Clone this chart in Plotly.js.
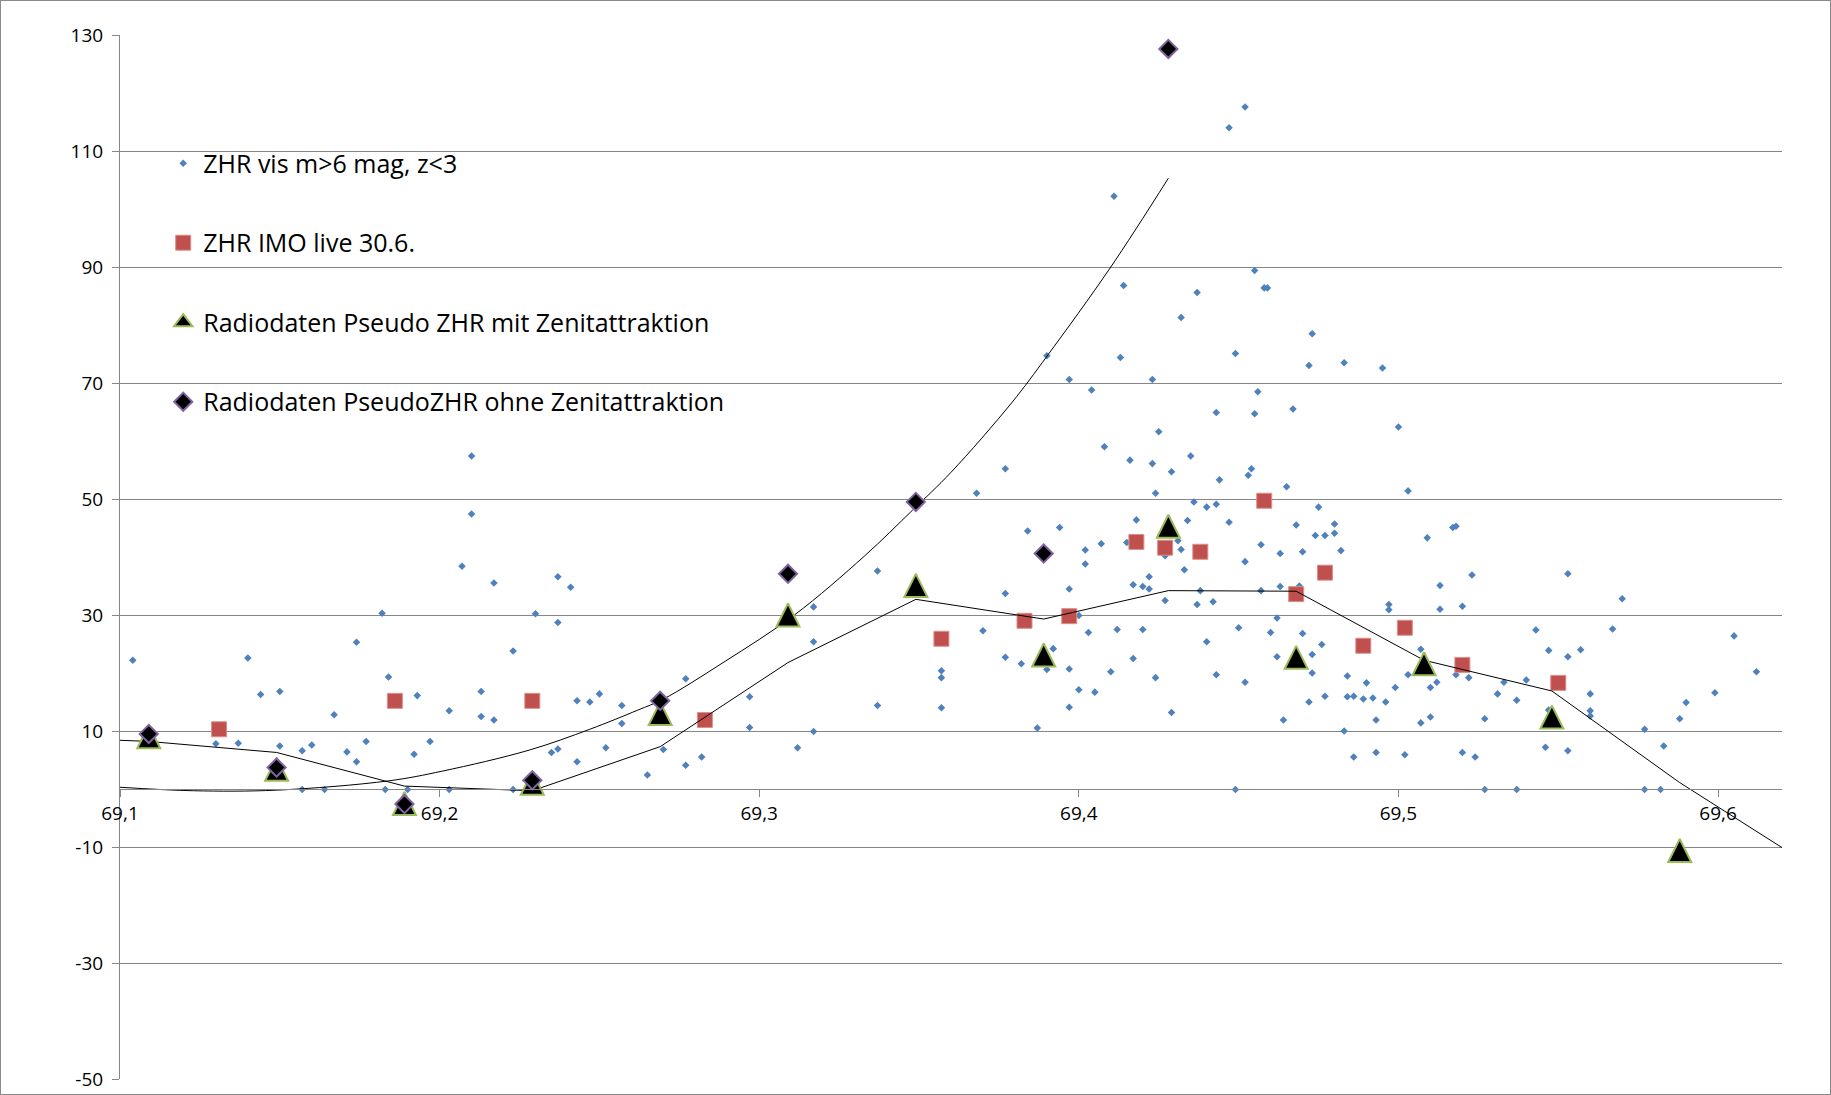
<!DOCTYPE html>
<html>
<head>
<meta charset="utf-8">
<script src="https://cdn.plot.ly/plotly-3.0.1.min.js"></script>
<style>
  html, body { margin: 0; padding: 0; background: #ffffff; }
  #frame { position: absolute; left: 0; top: 0; width: 1829px; height: 1093px; border: 1px solid #8a8a8a; }
  #chart { width: 1829px; height: 1093px; }
</style>
</head>
<body>
<div id="frame"><div id="chart"></div></div>
<script>
// Visual ZHR estimates (solar longitude, ZHR)
const visX = [
  69.104, 69.140, 69.130, 69.137, 69.144, 69.150, 69.150, 69.157, 69.160, 69.157,
  69.164, 69.167, 69.171, 69.174, 69.174, 69.177, 69.182, 69.183, 69.184, 69.190,
  69.192, 69.193, 69.197, 69.203, 69.203, 69.207, 69.210, 69.210, 69.213, 69.213,
  69.217, 69.217, 69.223, 69.223, 69.230, 69.235, 69.237, 69.237, 69.237, 69.241,
  69.243, 69.243, 69.247, 69.250, 69.252, 69.257, 69.257, 69.265, 69.270, 69.277,
  69.277, 69.282, 69.297, 69.297, 69.312, 69.317, 69.317, 69.317, 69.337, 69.337,
  69.357, 69.357, 69.357,
  69.368, 69.370, 69.377, 69.377, 69.377, 69.382, 69.384, 69.387, 69.390, 69.390,
  69.392, 69.394, 69.397, 69.397, 69.397, 69.397, 69.400, 69.400, 69.402, 69.402,
  69.403, 69.404, 69.405, 69.407, 69.408, 69.410, 69.411, 69.412, 69.413, 69.414,
  69.415, 69.416, 69.417, 69.417, 69.418, 69.420, 69.420, 69.422, 69.422, 69.423,
  69.423, 69.425, 69.424, 69.424, 69.427, 69.427, 69.429, 69.429, 69.431, 69.432,
  69.432, 69.433, 69.434, 69.435, 69.436, 69.437, 69.437, 69.438, 69.440, 69.440,
  69.442, 69.443, 69.443, 69.443, 69.444, 69.447, 69.447, 69.449, 69.449, 69.450,
  69.452, 69.452, 69.452, 69.453, 69.454, 69.455, 69.455, 69.456, 69.457, 69.457,
  69.458, 69.459, 69.460, 69.462, 69.462, 69.463, 69.463, 69.464, 69.465, 69.467,
  69.468, 69.469, 69.470, 69.470, 69.472, 69.472, 69.473, 69.473, 69.473, 69.474,
  69.475, 69.476, 69.477, 69.477, 69.480, 69.480, 69.482, 69.483, 69.483, 69.484,
  69.484, 69.486, 69.486, 69.489, 69.490,
  69.492, 69.493, 69.493, 69.495, 69.496, 69.497, 69.497, 69.499, 69.500, 69.502,
  69.503, 69.503, 69.507, 69.507, 69.509, 69.510, 69.510, 69.512, 69.513, 69.513,
  69.517, 69.518, 69.518, 69.520, 69.520, 69.522, 69.523, 69.524, 69.527, 69.527,
  69.531, 69.533, 69.537, 69.537, 69.540, 69.543, 69.546, 69.547, 69.547, 69.553,
  69.553, 69.553, 69.557, 69.560, 69.560, 69.560, 69.567, 69.570, 69.577, 69.577,
  69.582, 69.583, 69.588, 69.590, 69.599, 69.605, 69.612
];
const visY = [
  22.2, 22.6, 7.8, 7.9, 16.3, 16.8, 7.4, 6.6, 7.6, -0.1,
  -0.1, 12.8, 6.4, 25.3, 4.7, 8.2, 30.3, -0.1, 19.3, -0.1,
  6.0, 16.1, 8.2, 13.5, -0.1, 38.4, 57.4, 47.4, 16.8, 12.5,
  35.5, 11.9, 23.8, -0.1, 30.2, 6.3, 6.9, 36.6, 28.7, 34.8,
  15.2, 4.7, 15.0, 16.4, 7.1, 14.4, 11.3, 2.4, 6.8, 19.0,
  4.1, 5.5, 15.9, 10.6, 7.1, 25.4, 9.9, 31.4, 14.4, 37.6,
  20.4, 19.2, 14.0,
  51.0, 27.3, 55.2, 33.7, 22.7, 21.6, 44.5, 10.5, 74.7, 20.6,
  24.2, 45.1, 70.6, 34.5, 20.7, 14.1, 29.9, 17.1, 41.2, 38.8,
  27.0, 68.8, 16.7, 42.3, 59.0, 20.2, 102.2, 27.5, 74.4, 86.8,
  42.5, 56.7, 35.2, 22.5, 46.4, 34.9, 27.5, 36.6, 34.5, 70.6,
  56.1, 61.6, 51.0, 19.2, 40.2, 32.5, 54.7, 13.2, 42.8, 81.3,
  41.3, 37.8, 46.3, 57.4, 49.5, 85.6, 31.8, 34.2, 48.6, 25.4,
  32.3, 64.9, 49.1, 19.7, 53.3, 114.0, 46.0, 75.1, -0.1, 27.8,
  117.6, 39.2, 18.4, 54.1, 55.2, 89.4, 64.7, 68.5, 42.1, 34.2,
  86.4, 86.4, 27.0, 29.5, 22.8, 40.6, 34.9, 11.9, 52.1, 65.5,
  45.5, 35.0, 40.9, 26.8, 73.0, 15.0, 78.5, 23.2, 20.0, 43.7,
  48.6, 24.9, 43.7, 16.0, 45.7, 44.1, 41.1, 73.5, 10.0, 19.5,
  15.9, 16.0, 5.5, 15.5, 18.3,
  15.7, 11.9, 6.3, 72.6, 15.0, 31.8, 30.9, 17.5, 62.4, 5.9,
  51.4, 19.7, 24.1, 11.4, 43.3, 17.5, 12.4, 18.4, 35.1, 31.0,
  45.1, 45.3, 19.7, 31.5, 6.3, 19.2, 36.9, 5.5, 12.1, -0.1,
  16.4, 18.4, 15.3, -0.1, 18.8, 27.4, 7.2, 23.9, 13.6, 37.1,
  22.8, 6.6, 24.0, 16.4, 13.5, 12.6, 27.6, 32.8, 10.3, -0.1,
  -0.1, 7.4, 12.1, 14.9, 16.6, 26.4, 20.2
];

// IMO live ZHR (30.6.)
const imoX = [69.131, 69.186, 69.229, 69.283, 69.357, 69.383, 69.397, 69.418, 69.427,
              69.438, 69.458, 69.468, 69.477, 69.489, 69.502, 69.520, 69.550];
const imoY = [10.3, 15.2, 15.2, 11.9, 25.9, 29.0, 29.8, 42.6, 41.6,
              40.9, 49.7, 33.6, 37.3, 24.7, 27.8, 21.4, 18.3];

// Radio pseudo ZHR with zenith attraction
const radioX = [69.109, 69.149, 69.189, 69.229, 69.269, 69.309, 69.349, 69.389, 69.428,
                69.468, 69.508, 69.548, 69.588];
const radioMitY = [9.0, 3.4, -2.5, 1.0, 13.0, 30.0, 35.1, 23.1, 45.3, 22.7, 21.6, 12.4, -10.6];

// Radio pseudo ZHR without zenith attraction
const radioOhneX = [69.109, 69.149, 69.189, 69.229, 69.269, 69.309, 69.349, 69.389, 69.428];
const radioOhneY = [9.5, 3.7, -2.6, 1.5, 15.2, 37.1, 49.5, 40.6, 127.6];

// Running-mean line through the radio data (with zenith attraction)
const meanX = [69.100, 69.109, 69.149, 69.189, 69.229, 69.269, 69.309, 69.349, 69.389,
               69.428, 69.468, 69.508, 69.548, 69.588, 69.620];
const meanY = [8.4, 8.2, 6.3, 0.5, -0.3, 7.3, 21.8, 32.7, 29.3, 34.2, 34.1, 22.2, 16.9, 1.1, -10.1];

// Trend curve of the radio data without zenith attraction
const curveX = [69.100, 69.123, 69.149, 69.184, 69.201, 69.228, 69.247, 69.262, 69.270,
                69.289, 69.311, 69.333, 69.348, 69.360, 69.379, 69.390, 69.410, 69.428];
const curveY = [0.3, -0.3, -0.2, 1.4, 3.1, 6.7, 10.3, 13.6, 15.5,
                21.9, 30.0, 40.2, 48.1, 54.6, 66.6, 74.6, 90.0, 105.3];

// Axis ticks
const xTickVals = [69.1, 69.2, 69.3, 69.4, 69.5, 69.6];
const xTickText = ['69,1', '69,2', '69,3', '69,4', '69,5', '69,6'];
const yTickVals = [-50, -30, -10, 10, 30, 50, 70, 90, 110, 130];
const yTickText = ['-50', '-30', '-10', '10', '30', '50', '70', '90', '110', '130'];

const triangleLine = { color: '#9BBB59', width: 2 };

const traces = [
  {
    x: visX, y: visY, type: 'scatter', mode: 'markers',
    name: 'ZHR vis m>6 mag, z<3', legendgroup: 'g1',
    marker: { symbol: 'diamond', size: 5.8, color: '#4F81BD' },
    hoverinfo: 'x+y'
  },
  {
    x: imoX, y: imoY, type: 'scatter', mode: 'markers',
    name: 'ZHR IMO live 30.6.', legendgroup: 'g2',
    marker: { symbol: 'square', size: 15, color: '#C0504D', line: { color: '#DA8F8C', width: 1 } }
  },
  {
    x: meanX, y: meanY, type: 'scatter', mode: 'lines', showlegend: false,
    line: { color: '#000000', width: 1 }, hoverinfo: 'skip'
  },
  {
    x: curveX, y: curveY, type: 'scatter', mode: 'lines', showlegend: false,
    line: { color: '#000000', width: 1, shape: 'spline', smoothing: 1 }, hoverinfo: 'skip'
  },
  {
    // legend key for the triangle series (no points of its own)
    x: [null], y: [null], type: 'scatter', mode: 'markers',
    name: 'Radiodaten Pseudo ZHR mit Zenitattraktion', legendgroup: 'g3',
    marker: { symbol: 'triangle-up', size: 16, color: '#000000', line: triangleLine },
    hoverinfo: 'skip'
  },
  {
    // upward triangle, centred on its point (apex flipped and pushed up by half its height)
    x: radioX, y: radioMitY, type: 'scatter', mode: 'markers',
    name: 'Radiodaten Pseudo ZHR mit Zenitattraktion', legendgroup: 'g3', showlegend: false,
    marker: { symbol: 'arrow-down', angle: 180, size: 23, standoff: 11.5, color: '#000000',
              line: triangleLine }
  },
  {
    x: radioOhneX, y: radioOhneY, type: 'scatter', mode: 'markers',
    name: 'Radiodaten PseudoZHR ohne Zenitattraktion', legendgroup: 'g4',
    marker: { symbol: 'diamond', size: 14, color: '#000000',
              line: { color: '#8064A2', width: 2 } }
  }
];

const layout = {
  width: 1829, height: 1093,
  margin: { l: 119, r: 48, t: 34, b: 15, pad: 0 },
  paper_bgcolor: '#ffffff', plot_bgcolor: '#ffffff',
  font: { family: '"Open Sans", Lato, sans-serif', size: 19, color: '#000000' },
  showlegend: true,
  legend: {
    x: 0.026, y: 0.899, xanchor: 'left', yanchor: 'top',
    font: { family: '"Open Sans", Lato, sans-serif', size: 25, color: '#000000' },
    tracegroupgap: 44, bgcolor: 'rgba(0,0,0,0)', borderwidth: 0,
    itemsizing: 'trace', traceorder: 'grouped'
  },
  xaxis: {
    range: [69.1, 69.62], tickvals: xTickVals, ticktext: xTickText,
    showgrid: false, zeroline: false, showline: true,
    linecolor: '#868686', linewidth: 1,
    ticks: 'outside', ticklen: 7, tickcolor: '#868686', tickwidth: 1,
    anchor: 'free', position: 50 / 180,
    tickfont: { size: 19, color: '#000000' }
  },
  yaxis: {
    range: [-50, 130], tickvals: yTickVals, ticktext: yTickText,
    showgrid: true, gridcolor: '#868686', gridwidth: 1,
    zeroline: false, showline: true, linecolor: '#868686', linewidth: 1,
    ticks: 'outside', ticklen: 7, tickcolor: '#868686', tickwidth: 1,
    ticklabelstandoff: 5,
    tickfont: { size: 19, color: '#000000' }
  }
};

Plotly.newPlot('chart', traces, layout, { displayModeBar: false, staticPlot: true });
</script>
</body>
</html>
